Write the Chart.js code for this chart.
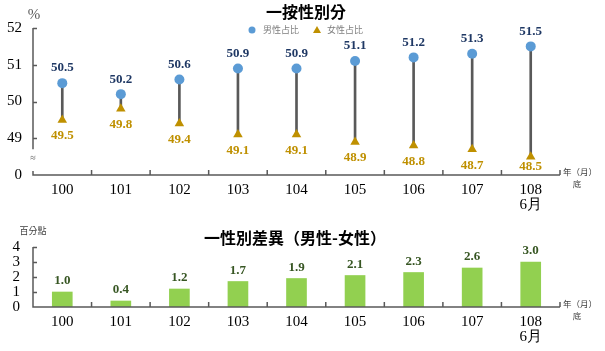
<!DOCTYPE html>
<html>
<head>
<meta charset="utf-8">
<script src="https://cdn.jsdelivr.net/npm/chart.js@4.4.1/dist/chart.umd.min.js"></script>
<style>
  body { margin: 0; background: #fff; }
  #wrap { position: relative; width: 605px; height: 351px; }
  #top { position: absolute; left: 0; top: 0; }
  #bottom { position: absolute; left: 0; top: 215px; }
</style>
</head>
<body>
<div id="wrap">
  <canvas id="top" width="605" height="215"></canvas>
  <canvas id="bottom" width="605" height="136"></canvas>
</div>
<script>
// data
var years = ["100", "101", "102", "103", "104", "105", "106", "107", ["108", "6月"]];
var maleShare = [50.5, 50.2, 50.6, 50.9, 50.9, 51.1, 51.2, 51.3, 51.5];
var femaleShare = [49.5, 49.8, 49.4, 49.1, 49.1, 48.9, 48.8, 48.7, 48.5];
var genderGap = [1.0, 0.4, 1.2, 1.7, 1.9, 2.1, 2.3, 2.6, 3.0];
var shareTicks = [48, 49, 50, 51, 52]; // 48 sits under the axis break and reads "0"
var gapTicks = [0, 1, 2, 3, 4];

var serif = "'Liberation Serif', 'Times New Roman', serif";
var cjk = "'Noto Sans CJK TC', 'Noto Sans CJK SC', sans-serif";
var axisColor = "#595959";

function drawAxes(chart, breakAxis) {
  var ctx = chart.ctx;
  var a = chart.chartArea;
  var y = chart.scales.y;
  ctx.save();
  ctx.strokeStyle = axisColor;
  ctx.lineWidth = 1.5;
  ctx.beginPath();
  if (breakAxis) {
    ctx.moveTo(a.left, a.top);
    ctx.lineTo(a.left, y.getPixelForValue(49) + 11);
    ctx.moveTo(a.left, a.bottom - 4);
    ctx.lineTo(a.left, a.bottom);
  } else {
    ctx.moveTo(a.left, a.top);
    ctx.lineTo(a.left, a.bottom);
  }
  ctx.lineTo(a.right, a.bottom);
  // inward y ticks
  y.ticks.forEach(function (t) {
    if (t.value === y.min) return;
    var py = Math.round(y.getPixelForValue(t.value)) + 0.5;
    ctx.moveTo(a.left, py);
    ctx.lineTo(a.left + 4, py);
  });
  // upward ticks between categories
  var n = years.length;
  for (var i = 1; i <= n; i++) {
    var px = a.left + i * (a.right - a.left) / n;
    ctx.moveTo(px, a.bottom);
    ctx.lineTo(px, a.bottom - 5);
  }
  ctx.stroke();

  if (breakAxis) {
    ctx.fillStyle = axisColor;
    ctx.font = "10px " + serif;
    ctx.textAlign = "center";
    ctx.textBaseline = "middle";
    ctx.fillText("≈", a.left, a.bottom - 17);
  }
  // unit at end of x axis
  ctx.fillStyle = "#404040";
  ctx.font = "8.5px " + cjk;
  ctx.textAlign = "left";
  ctx.textBaseline = "middle";
  ctx.fillText("年（月）", a.right + 3, a.bottom - 3);
  ctx.textAlign = "center";
  ctx.fillText("底", a.right + 17, a.bottom + 9);
  ctx.restore();
}

function drawLabels(chart, idx, values, color, dy) {
  var ctx = chart.ctx;
  var meta = chart.getDatasetMeta(idx);
  var limit = chart.chartArea.bottom - 8;
  ctx.save();
  ctx.fillStyle = color;
  ctx.font = "bold 13px " + serif;
  ctx.textAlign = "center";
  ctx.textBaseline = "middle";
  meta.data.forEach(function (el, i) {
    var ty = el.y + dy;
    if (ty > limit) ty = limit;
    ctx.fillText(values[i].toFixed(1), el.x, ty);
  });
  ctx.restore();
}

var topDecor = {
  id: "topDecor",
  afterDraw: function (chart) {
    drawAxes(chart, true);
    drawLabels(chart, 2, maleShare, "#1f3864", -15);
    drawLabels(chart, 1, femaleShare, "#bf9000", 16);
    var ctx = chart.ctx;
    ctx.save();
    ctx.fillStyle = "#000";
    ctx.font = "bold 16px " + cjk;
    ctx.textAlign = "center";
    ctx.textBaseline = "middle";
    ctx.fillText("一按性別分", 306, 12);
    ctx.fillStyle = axisColor;
    ctx.font = "15px " + serif;
    ctx.fillText("%", 34, 15);
    // legend
    ctx.fillStyle = "#5b9bd5";
    ctx.beginPath();
    ctx.arc(252, 30, 3.5, 0, Math.PI * 2);
    ctx.fill();
    ctx.fillStyle = "#bf9000";
    ctx.beginPath();
    ctx.moveTo(317, 26);
    ctx.lineTo(321, 33);
    ctx.lineTo(313, 33);
    ctx.closePath();
    ctx.fill();
    ctx.fillStyle = "#7f7f7f";
    ctx.font = "9px " + cjk;
    ctx.textAlign = "left";
    ctx.fillText("男性占比", 263, 30);
    ctx.fillText("女性占比", 327, 30);
    ctx.restore();
  }
};

var bottomDecor = {
  id: "bottomDecor",
  afterDraw: function (chart) {
    drawAxes(chart, false);
    drawLabels(chart, 0, genderGap, "#375623", -11);
    var ctx = chart.ctx;
    ctx.save();
    ctx.fillStyle = "#000";
    ctx.font = "bold 16px " + cjk;
    ctx.textAlign = "center";
    ctx.textBaseline = "middle";
    ctx.fillText("一性別差異（男性-女性）", 295, 23);
    ctx.fillStyle = "#404040";
    ctx.font = "9px " + cjk;
    ctx.fillText("百分點", 33, 16);
    ctx.restore();
  }
};

function xScale(h) {
  return {
    type: "category",
    offset: true,
    grid: { display: false, drawTicks: false },
    border: { display: false },
    afterFit: function (s) { s.height = h; },
    ticks: {
      color: "#000",
      padding: 8,
      font: { family: serif, size: 15, lineHeight: 1.0 },
      maxRotation: 0,
      autoSkip: false
    }
  };
}

function yScale(min, max, list, pad) {
  return {
    min: min,
    max: max,
    afterFit: function (s) { s.width = 33; },
    afterBuildTicks: function (s) { s.ticks = list.map(function (v) { return { value: v }; }); },
    grid: { display: false, drawTicks: false },
    border: { display: false },
    ticks: {
      color: "#000",
      padding: pad,
      autoSkip: false,
      font: { family: serif, size: 15, lineHeight: 1.0 },
      callback: function (v) { return v === 48 ? "0" : v; }
    }
  };
}

new Chart(document.getElementById("top"), {
  data: {
    labels: years,
    datasets: [
      {
        type: "bar",
        label: "stem",
        data: maleShare.map(function (m, i) { return [femaleShare[i], m]; }),
        backgroundColor: axisColor,
        barThickness: 2,
        order: 3
      },
      {
        type: "line",
        label: "女性占比",
        data: femaleShare,
        showLine: false,
        pointStyle: "triangle",
        pointRadius: 5.5,
        pointBackgroundColor: "#bf9000",
        pointBorderColor: "#bf9000",
        pointBorderWidth: 0,
        order: 2
      },
      {
        type: "line",
        label: "男性占比",
        data: maleShare,
        showLine: false,
        pointStyle: "circle",
        pointRadius: 5,
        pointBackgroundColor: "#5b9bd5",
        pointBorderColor: "#5b9bd5",
        pointBorderWidth: 0,
        order: 1
      }
    ]
  },
  options: {
    responsive: false,
    animation: false,
    layout: { padding: { top: 28, right: 45, left: 0, bottom: 0 } },
    plugins: { legend: { display: false }, tooltip: { enabled: false } },
    scales: {
      x: xScale(40),
      y: yScale(48, 52, shareTicks, 11)
    }
  },
  plugins: [topDecor]
});

new Chart(document.getElementById("bottom"), {
  type: "bar",
  data: {
    labels: years,
    datasets: [{
      label: "性別差異",
      data: genderGap,
      backgroundColor: "#92d050",
      barThickness: 20
    }]
  },
  options: {
    responsive: false,
    animation: false,
    layout: { padding: { top: 32, right: 45, left: 0, bottom: 0 } },
    plugins: { legend: { display: false }, tooltip: { enabled: false } },
    scales: {
      x: xScale(44),
      y: yScale(0, 4, gapTicks, 13)
    }
  },
  plugins: [bottomDecor]
});
</script>
</body>
</html>
